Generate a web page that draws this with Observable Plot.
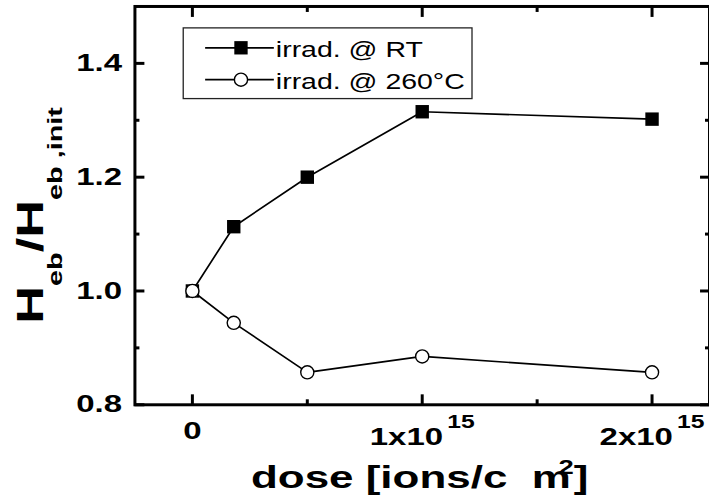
<!DOCTYPE html>
<html>
<head>
<meta charset="utf-8">
<script src="https://cdn.jsdelivr.net/npm/d3@7"></script>
<script src="https://cdn.jsdelivr.net/npm/@observablehq/plot@0.6"></script>
<style>
  html, body { margin: 0; padding: 0; background: #fff; overflow: hidden; }
  #chart { width: 709px; height: 504px; overflow: hidden; }
  #chart svg { display: block; }
</style>
</head>
<body>
<div id="chart"></div>
<script>
// Exchange-bias field after ion irradiation, normalised to its initial value
const doses = [0, 0.18e15, 0.5e15, 1e15, 2e15];
const hebRT = [1.0, 1.113, 1.200, 1.315, 1.302];
const heb260 = [1.0, 0.944, 0.857, 0.885, 0.857];
const seriesNames = ["irrad. @ RT", "irrad. @ 260°C"];
const xTicks = [0, 1e15, 2e15];
const xTickLabels = ["0", "1x10^15", "2x10^15"];
const xMinorTicks = [0.5e15, 1.5e15];
const yTicks = [0.8, 1.0, 1.2, 1.4];
const yTickLabels = ["0.8", "1.0", "1.2", "1.4"];
const yMinorTicks = [0.9, 1.1, 1.3];

const rowsRT = doses.map((d, i) => ({dose: d, ratio: hebRT[i]}));
const rows260 = doses.map((d, i) => ({dose: d, ratio: heb260[i]}));

const font = "'Liberation Sans', Arial, sans-serif";
const STRETCH = 1.38; // glyphs are drawn horizontally widened

// inward-pointing tick marks (no labels)
const ticks = (axis, values, anchor, size) =>
  axis(values, {anchor, tickSize: -size, strokeWidth: 3, tickFormat: () => "", label: null});

const chart = Plot.plot({
  width: 712,
  height: 504,
  marginLeft: 135,
  marginRight: 0,
  marginTop: 6,
  marginBottom: 98,
  style: {fontFamily: font, background: "#fff", color: "#000"},
  x: {domain: [-0.25e15, 2.25e15]},
  y: {domain: [0.8, 1.5]},
  marks: [
    ticks(Plot.axisX, xTicks, "bottom", 10),
    ticks(Plot.axisX, xTicks, "top", 10),
    ticks(Plot.axisX, xMinorTicks, "bottom", 5),
    ticks(Plot.axisX, xMinorTicks, "top", 5),
    ticks(Plot.axisY, yTicks, "left", 10),
    ticks(Plot.axisY, yTicks, "right", 10),
    ticks(Plot.axisY, yMinorTicks, "left", 5),
    ticks(Plot.axisY, yMinorTicks, "right", 5),
    Plot.axisY(yTicks, {
      anchor: "left", tickSize: 0, tickPadding: 13, label: null,
      tickFormat: d => yTickLabels[yTicks.indexOf(d)],
      fontSize: 24, fontWeight: "bold"
    }),
    Plot.axisX(xTicks, {
      anchor: "bottom", tickSize: 0, tickPadding: 17, label: null,
      tickFormat: d => xTickLabels[xTicks.indexOf(d)],
      fontSize: 24, fontWeight: "bold"
    }),
    Plot.frame({stroke: "#000", strokeWidth: 3}),
    Plot.line(rowsRT, {x: "dose", y: "ratio", stroke: "#000", strokeWidth: 1.7}),
    Plot.dot(rowsRT, {x: "dose", y: "ratio", symbol: "square", r: 7.6, fill: "#000", stroke: "none"}),
    Plot.line(rows260, {x: "dose", y: "ratio", stroke: "#000", strokeWidth: 1.7}),
    Plot.dot(rows260, {x: "dose", y: "ratio", symbol: "circle", r: 6.6, fill: "#fff", stroke: "#000", strokeWidth: 1.4})
  ]
});

document.getElementById("chart").appendChild(chart);
const svg = d3.select(chart);

// widen a text element about its own anchor point
function widen(el, s) {
  const x = +el.getAttribute("x") || 0, y = +el.getAttribute("y") || 0;
  const t = el.getAttribute("transform") || "";
  el.setAttribute("transform", `${t} translate(${x},${y}) scale(${s},1) translate(${-x},${-y})`);
}

// tick labels: exponent written as a raised superscript
svg.selectAll("text").each(function () {
  const txt = this.textContent;
  if (txt.includes("^")) {
    const [base, exp] = txt.split("^");
    this.textContent = "";
    const t = d3.select(this);
    t.append("tspan").text(base);
    t.append("tspan").attr("dx", 3).attr("dy", -17).attr("font-size", 18).text(exp);
    const tr = this.getAttribute("transform") || "";
    this.setAttribute("transform", `${tr} translate(0,6)`);
  }
  if (txt) widen(this, STRETCH);
});

// y-axis title: H_eb / H_eb,init
const yTitle = svg.append("text")
  .attr("transform", `translate(43,325) rotate(-90) scale(${STRETCH},1)`)
  .attr("text-anchor", "start")
  .attr("font-family", font).attr("font-weight", "bold").attr("font-size", 38)
  .style("white-space", "pre");
yTitle.append("tspan").text("H");
yTitle.append("tspan").attr("font-size", 21).attr("dy", 19).text("eb");
yTitle.append("tspan").attr("dy", -19).text("/H");
yTitle.append("tspan").attr("font-size", 21).attr("dy", 19).text("eb ,init");

// x-axis title: dose [ions/cm²]
const xTitle = svg.append("text")
  .attr("transform", `translate(252,490) scale(${STRETCH},1)`)
  .attr("text-anchor", "start")
  .attr("font-family", font).attr("font-weight", "bold").attr("font-size", 32)
  .style("white-space", "pre");
xTitle.append("tspan").text("dose [ions/c  m");
xTitle.append("tspan").attr("dx", -9).attr("dy", -14).attr("font-size", 20).text("2");
xTitle.append("tspan").attr("dy", 14).text("]");

// legend
const legend = svg.append("g").attr("font-family", font).attr("font-size", 22).attr("text-anchor", "start");
legend.append("rect").attr("x", 184).attr("y", 28).attr("width", 290).attr("height", 71)
  .attr("fill", "#fff").attr("stroke", "#222").attr("stroke-width", 1.3);
const rowsY = [48, 80];
rowsY.forEach((ry, i) => {
  legend.append("line").attr("x1", 206).attr("x2", 275).attr("y1", ry).attr("y2", ry)
    .attr("stroke", "#000").attr("stroke-width", 1.7);
  if (i === 0) {
    legend.append("rect").attr("x", 242 - 6.7).attr("y", ry - 6.7).attr("width", 13.4).attr("height", 13.4).attr("fill", "#000");
  } else {
    legend.append("circle").attr("cx", 242).attr("cy", ry).attr("r", 6.6)
      .attr("fill", "#fff").attr("stroke", "#000").attr("stroke-width", 1.4);
  }
  const lt = legend.append("text").attr("x", 277).attr("y", ry + 9).text(seriesNames[i]);
  widen(lt.node(), 1.3);
});
</script>
</body>
</html>
